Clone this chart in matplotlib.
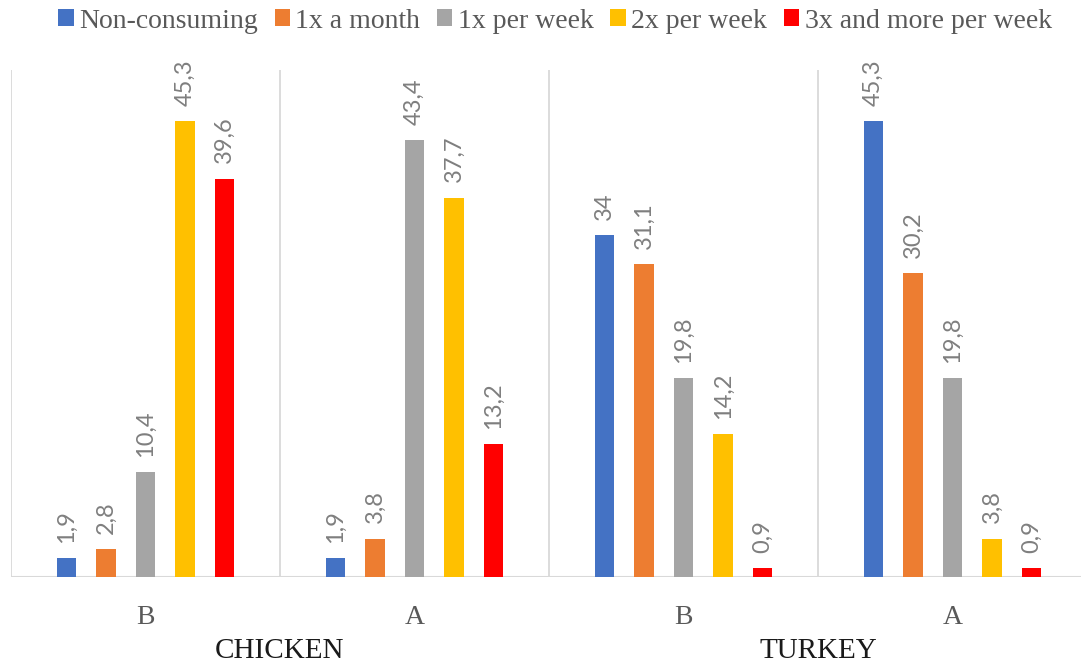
import matplotlib
matplotlib.use("Agg")
import matplotlib.pyplot as plt
from matplotlib.patches import Patch

series = ["Non-consuming", "1x a month", "1x per week", "2x per week", "3x and more per week"]
colors = ["#4472C4", "#ED7D31", "#A5A5A5", "#FFC000", "#FF0000"]
groups = ["B", "A", "B", "A"]
products = ["CHICKEN", "TURKEY"]
values = [
    [1.9, 1.9, 34.0, 45.3],    # Non-consuming
    [2.8, 3.8, 31.1, 30.2],    # 1x a month
    [10.4, 43.4, 19.8, 19.8],  # 1x per week
    [45.3, 37.7, 14.2, 3.8],   # 2x per week
    [39.6, 13.2, 0.9, 0.9],    # 3x and more per week
]

W, H = 1081, 663
fig = plt.figure(figsize=(W / 100, H / 100), dpi=100)
ax = fig.add_axes([11 / W, 86 / H, 1076 / W, 507 / H])

step = 0.1468
width = 0.074
label_color = "#7f7f7f"
for k, (name, col, vals) in enumerate(zip(series, colors, values)):
    xs = [g + 0.5 + (k - 2) * step for g in range(len(groups))]
    ax.bar(xs, vals, width=width, color=col, label=name, zorder=3)
    for x, v in zip(xs, vals):
        txt = f"{v:g}".replace(".", ",")
        ax.annotate(txt, (x, v), xytext=(0, 11), textcoords="offset points",
                    rotation=90, ha="center", va="bottom", fontsize=17,
                    color=label_color, family="Lato")

ax.set_xlim(0, len(groups))
ax.set_ylim(0, 50.4)
for s in ax.spines.values():
    s.set_visible(False)
ax.set_yticks([])
ax.set_xticks([])
ax.axhline(0, color="#d9d9d9", lw=1.5, zorder=2)
for g in range(len(groups) + 1):
    ax.axvline(g, color="#d9d9d9", lw=1.3, zorder=1)

for g, lab in enumerate(groups):
    ax.text(g + 0.5, -0.08, lab, transform=ax.get_xaxis_transform(),
            ha="center", va="center", fontsize=20, color="#595959",
            family="Liberation Serif")
for p, lab in enumerate(products):
    ax.text(2 * p + 1, -0.146, lab, transform=ax.get_xaxis_transform(),
            ha="center", va="center", fontsize=21, color="#1a1a1a",
            family="Liberation Serif")

handles = [Patch(facecolor=c, edgecolor="none") for c in colors]
leg = fig.legend(handles, series, loc="center", bbox_to_anchor=(555 / W, 1 - 21 / H),
                 ncol=5, frameon=False, handlelength=0.55, handleheight=0.55,
                 handletextpad=0.2, columnspacing=0.6,
                 prop={"family": "Liberation Serif", "size": 20})
for t in leg.get_texts():
    t.set_color("#595959")

fig.savefig("out.png", dpi=100)
